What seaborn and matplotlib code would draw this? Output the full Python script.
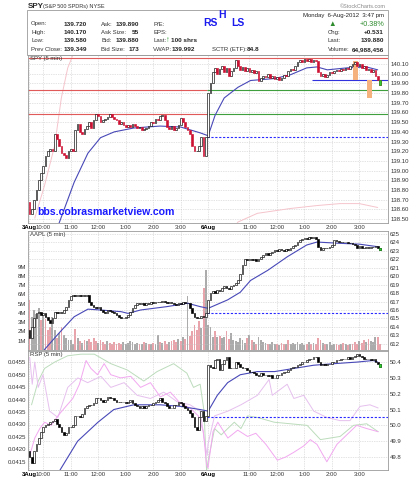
import numpy as np
import matplotlib
matplotlib.use("Agg")
import matplotlib.pyplot as plt
import seaborn as sns
from matplotlib.patches import Rectangle
from matplotlib.ticker import FuncFormatter

# ---------------- data (5-min bars, 3-Aug then 6-Aug 2012) ----------------
spy_open_first = 138.68
spy_close = [
    138.55, 138.60, 138.70, 138.80, 138.90, 138.98, 139.05, 139.15, 139.20, 139.22,
    139.20, 139.38, 139.33, 139.25, 139.18, 139.16, 139.13, 139.20, 139.22, 139.20,
    139.42, 139.48, 139.40, 139.38, 139.43, 139.46, 139.50, 139.44, 139.52, 139.58,
    139.56, 139.50, 139.52, 139.53, 139.55, 139.58, 139.55, 139.53, 139.52, 139.48,
    139.50, 139.47, 139.45, 139.47, 139.45, 139.48, 139.46, 139.44, 139.45, 139.42,
    139.43, 139.44, 139.46, 139.50, 139.49, 139.53, 139.52, 139.56, 139.57, 139.52,
    139.45, 139.43, 139.46, 139.42, 139.44, 139.47, 139.54, 139.50, 139.45, 139.42,
    139.38, 139.25, 139.20, 139.20, 139.25, 139.35, 139.15, 139.35,
    139.80, 139.90, 140.02, 140.06, 140.00, 140.05, 140.08, 140.02, 140.06, 139.98,
    140.03, 140.06, 140.14, 140.08, 140.04, 140.07, 140.03, 140.06, 140.02, 140.04,
    140.01, 140.03, 139.92, 139.96, 139.98, 139.97, 140.00, 139.96, 139.98, 139.95,
    139.97, 139.94, 139.96, 139.99, 139.98, 140.03, 140.05, 140.04, 140.08, 140.12,
    140.14, 140.12, 140.15, 140.13, 140.15, 140.12, 140.14, 140.13, 140.02, 139.98,
    140.00, 139.97, 139.99, 140.02, 140.01, 140.03, 140.04, 140.03, 140.05, 140.04,
    140.06, 140.05, 140.08, 140.10, 140.12, 140.08, 140.10, 140.06, 140.08, 140.04,
    140.05, 140.02, 140.04, 139.98, 139.94, 139.88,
]
spy_ma_x = [12, 19.5, 25.5, 31, 37, 45.5, 57, 66, 74.5, 78, 81, 85, 91, 96.5, 107, 114, 121, 125.5, 130, 138.5, 147, 152]
spy_ma_y = [138.40, 138.88, 139.18, 139.34, 139.40, 139.44, 139.46, 139.45, 139.39, 139.36, 139.57, 139.75,
            139.86, 139.93, 139.95, 139.99, 140.06, 140.07, 140.04, 140.06, 140.07, 140.04]
spy_pink1_x = [2.3, 6.6, 11, 13.9, 16.7, 18.9, 20.5]
spy_pink1_y = [138.51, 138.85, 139.26, 139.75, 140.06, 140.19, 140.40]
spy_pink2_x = [89, 91, 99.5, 114, 125.5, 135.5, 144, 152]
spy_pink2_y = [138.40, 138.47, 138.56, 138.61, 138.64, 138.66, 138.66, 138.62]
spy_top_level = 140.16
spy_day1_levels = [139.83, 139.58]
spy_day2_levels = [139.83, 139.58]
spy_blue_level = 139.94
spy_prev_close = 139.35
spy_hilite_x0 = [141.4, 147.2]
spy_hilite_x1 = [143.6, 149.7]
spy_hilite_lo = [139.94, 139.75]
spy_hilite_hi = [140.13, 139.93]

aapl_open_first = 613.6
aapl_close = [
    612.7, 614.0, 615.0, 615.6, 615.8, 615.4, 615.6, 615.2, 614.8, 614.4,
    615.0, 615.8, 615.6, 615.8, 615.6, 616.0, 616.4, 617.2, 617.6, 617.8,
    617.6, 617.8, 617.6, 617.8, 617.6, 617.8, 617.0, 616.6, 616.4, 616.2,
    616.4, 616.0, 615.8, 615.6, 616.0, 615.9, 615.8, 615.6, 615.4, 615.2,
    615.0, 615.0, 615.2, 615.4, 615.8, 616.2, 616.6, 616.8, 616.7, 616.8,
    616.6, 616.8, 616.7, 616.9, 616.8, 616.9, 617.0, 616.9, 617.1, 617.0,
    616.8, 616.9, 616.8, 616.7, 616.6, 616.8, 616.7, 616.9, 616.8, 616.8,
    616.2, 615.6, 615.2, 615.1, 615.0, 615.3, 615.2, 615.7,
    617.2, 618.0, 618.2, 618.0, 618.4, 618.2, 618.6, 618.8, 618.6, 618.5,
    618.8, 619.0, 619.2, 619.5, 620.3, 621.3, 622.1, 621.9, 622.1, 621.9,
    622.0, 621.8, 622.1, 622.3, 622.5, 622.7, 622.5, 622.8, 622.9, 623.1,
    623.0, 623.2, 623.1, 623.0, 623.2, 623.1, 623.4, 623.6, 623.7, 624.0,
    624.3, 624.4, 624.5, 624.4, 624.6, 624.5, 624.6, 624.4, 623.5, 623.1,
    623.4, 623.3, 623.4, 623.5, 623.7, 624.3, 624.2, 624.1, 624.1, 624.0,
    624.1, 623.9, 623.9, 623.8, 623.7, 623.4, 623.6, 623.4, 623.3, 623.5,
    623.4, 623.5, 623.5, 623.6, 623.4, 623.1,
]
aapl_volume_m = [
    5.4, 3.6, 4.3, 3.9, 4.5, 3.2, 3.8, 3.4, 2.2, 2.5,
    3.6, 2.2, 1.3, 1.8, 2.5, 1.6, 1.3, 1.1, 1.1, 0.7,
    2.3, 1.3, 1.0, 0.8, 1.1, 1.0, 1.2, 0.9, 1.3, 1.0,
    0.8, 1.1, 0.9, 0.7, 1.0, 0.8, 0.6, 0.9, 0.7, 0.8,
    0.6, 0.9, 0.7, 0.8, 1.0, 0.9, 0.7, 0.8, 0.6, 0.7,
    0.9, 0.8, 0.7, 0.6, 0.8, 0.7, 1.6, 0.9, 0.8, 1.0,
    0.7, 0.9, 1.0, 1.1, 0.9, 1.2, 1.0, 1.4, 1.2, 5.8,
    1.5, 2.0, 2.7, 2.2, 3.1, 2.4, 6.7, 8.6,
    2.7, 2.5, 1.4, 2.0, 1.4, 1.5, 1.3, 1.4, 2.0, 1.2,
    1.8, 1.1, 1.0, 0.9, 1.3, 1.1, 0.8, 1.3, 1.6, 1.1,
    0.9, 0.7, 1.4, 1.1, 0.9, 0.8, 0.6, 0.7, 0.9, 0.6,
    0.7, 0.5, 0.8, 0.6, 0.7, 1.1, 0.6, 0.8, 0.7, 0.9,
    0.6, 0.8, 0.5, 0.7, 0.9, 0.6, 0.8, 0.7, 1.3, 1.1,
    0.8, 0.7, 0.6, 0.9, 0.5, 0.6, 0.7, 0.5, 0.6, 0.8,
    0.6, 0.5, 0.7, 0.6, 0.9, 0.7, 1.0, 0.8, 1.1, 0.9,
    1.2, 1.0, 0.9, 1.4, 1.4, 0.6,
]
aapl_ma_x = [6.5, 13, 19.5, 25.5, 31, 40, 43, 48.5, 60, 69, 74.5, 78, 86.5, 92, 96.5, 104, 112.5, 121, 125.5, 135.5, 144, 152]
aapl_ma_y = [611.3, 613.3, 615.2, 616.1, 616.0, 615.8, 615.6, 616.0, 616.4, 616.8, 616.4, 616.2,
             617.2, 618.1, 619.5, 620.7, 622.3, 623.7, 624.05, 623.9, 623.8, 623.5]
aapl_prev_close = 615.7

rsp_open_first = 49.84
rsp_close = [
    49.80, 49.76, 49.84, 49.88, 49.92, 49.96, 49.99, 50.00, 50.01, 50.02,
    50.03, 50.04, 50.01, 49.99, 49.96, 49.94, 49.95, 49.99, 49.99, 50.00,
    50.06, 50.06, 50.05, 50.07, 50.11, 50.12, 50.13, 50.13, 50.14, 50.17,
    50.17, 50.16, 50.15, 50.16, 50.18, 50.17, 50.17, 50.16, 50.15, 50.15,
    50.15, 50.15, 50.14, 50.15, 50.16, 50.14, 50.13, 50.12, 50.11, 50.12,
    50.11, 50.12, 50.13, 50.13, 50.14, 50.15, 50.16, 50.17, 50.15, 50.14,
    50.12, 50.11, 50.11, 50.13, 50.13, 50.15, 50.14, 50.12, 50.11, 50.10,
    50.08, 50.05, 49.99, 49.97, 50.05, 50.09, 50.03, 50.06,
    50.38, 50.37, 50.36, 50.41, 50.42, 50.35, 50.39, 50.41, 50.43, 50.36,
    50.36, 50.36, 50.40, 50.39, 50.37, 50.36, 50.36, 50.35, 50.34, 50.34,
    50.33, 50.32, 50.31, 50.33, 50.32, 50.32, 50.31, 50.32, 50.30, 50.30,
    50.32, 50.32, 50.33, 50.34, 50.34, 50.35, 50.36, 50.37, 50.37, 50.38,
    50.39, 50.40, 50.40, 50.41, 50.42, 50.42, 50.43, 50.43, 50.40, 50.38,
    50.39, 50.38, 50.39, 50.39, 50.40, 50.40, 50.41, 50.41, 50.42, 50.42,
    50.42, 50.43, 50.42, 50.43, 50.44, 50.45, 50.44, 50.43, 50.42, 50.42,
    50.42, 50.41, 50.42, 50.40, 50.39, 50.37,
]
rsp_ma_x = [11, 13, 21, 29.9, 36.8, 45.5, 57, 66, 74.5, 78, 82, 86.5, 92, 99.5, 107, 115.5, 124, 133, 143, 150, 152]
rsp_ma_y = [49.65, 49.71, 49.90, 50.02, 50.10, 50.13, 50.13, 50.12, 50.10, 50.09, 50.19, 50.27,
            50.32, 50.34, 50.34, 50.36, 50.38, 50.39, 50.40, 50.41, 50.40]
rsp_green_x = [0.9, 3.8, 6.6, 11.0, 16.7, 22.5, 28.3, 35.5, 42.7, 49.9, 55.7, 62.9, 68.7, 71.6, 74.5, 76.2, 77.3,
               77.9, 80.8, 83.7, 89.4, 92.3, 95.2, 99.5, 106.8, 121.2, 127.0, 135.6, 141.4, 147.2, 152.2]
rsp_green_y = [50.13, 50.28, 50.36, 50.40, 50.44, 50.45, 50.45, 50.39, 50.35, 50.28, 50.34, 50.39, 50.33, 50.24,
               50.26, 50.09, 49.71, 49.77, 49.98, 49.94, 50.02, 49.98, 50.06, 50.05, 50.02, 50.00, 49.91, 49.93,
               50.00, 50.01, 49.96]
rsp_pink1_x = [0.1, 2.3, 4.5, 6.6, 9.5, 12.4, 15.3, 18.9, 21.8, 24.7, 26.8, 29.7, 32.6, 35.5, 39.8, 44.2, 48.5,
               52.8, 57.1, 61.5, 65.8, 70.1, 73.7, 75.9, 77.3, 77.9, 80.1, 82.2, 86.6, 90.9, 95.2, 98.8, 103.2,
               108.2, 111.8, 115.4, 119.7, 122.6, 125.5, 129.8, 134.2, 138.5, 142.8, 147.2, 152.2]
rsp_pink1_y = [49.81, 49.92, 49.98, 50.02, 50.00, 50.06, 50.11, 50.17, 50.26, 50.41, 50.36, 50.32, 50.39, 50.32,
               50.30, 50.31, 50.24, 50.27, 50.18, 50.21, 50.14, 50.11, 50.06, 49.96, 49.75, 49.73, 49.96, 50.02,
               49.92, 49.97, 49.93, 49.95, 49.88, 49.78, 49.80, 49.83, 49.87, 49.91, 49.88, 49.77, 49.88, 49.94,
               50.00, 49.98, 49.96]
rsp_pink2_x = [0.1, 1.2, 2.3, 3.8, 5.9, 8.8, 12.4, 16.7, 21.1, 25.4, 31.2, 35.5, 41.3, 47.0, 52.8, 58.6, 64.4,
               70.1, 74.5, 76.6, 77.6, 77.9, 80.8, 86.6, 92.3, 99.5, 104.6, 106.0, 112.5, 115.4, 119.7, 124.1,
               129.8, 135.6, 139.9, 144.3, 148.6, 152.2]
rsp_pink2_y = [50.43, 50.26, 50.40, 50.24, 50.32, 50.09, 50.05, 50.24, 50.30, 50.27, 50.31, 50.24, 50.27, 50.19,
               50.17, 50.21, 50.15, 50.13, 50.09, 49.88, 49.81, 49.88, 50.06, 50.09, 50.13, 50.19, 50.29, 50.19,
               50.26, 50.17, 50.19, 50.09, 50.05, 50.03, 50.03, 50.12, 50.13, 50.11]
rsp_prev_close = 50.056

day2_start = 78
xtick_pos = [0, 6, 18, 30, 42, 54, 66, 78, 96, 108, 120, 132, 144]
xtick_labels = ["3Aug", "10:00", "11:00", "12:00", "1:00", "2:00", "3:00",
                "6Aug", "11:00", "12:00", "1:00", "2:00", "3:00"]
spy_ticks = [138.50, 138.60, 138.70, 138.80, 138.90, 139.00, 139.10, 139.20, 139.30,
             139.40, 139.50, 139.60, 139.70, 139.80, 139.90, 140.00, 140.10]
aapl_ticks = [612, 613, 614, 615, 616, 617, 618, 619, 620, 621, 622, 623, 624, 625]
vol_ticks = [1, 2, 3, 4, 5, 6, 7, 8, 9]
rsp_ticks = [49.8, 49.9, 50.0, 50.1, 50.2, 50.3, 50.4]
ratio_ticks = [0.0415, 0.0420, 0.0425, 0.0430, 0.0435, 0.0440, 0.0445, 0.0450, 0.0455]

# ---------------- style ----------------
sns.set_style("white")
plt.rcParams["font.family"] = ["Liberation Sans", "DejaVu Sans"]
FS = 4.3
GRID = dict(color="#c8c8c8", linestyle=(0, (1, 1.5)), linewidth=0.5)
BLUE_MA = "#4848b8"
DASH_BLUE = "#2b2bff"

fig = plt.figure(figsize=(4.16, 4.8), dpi=100)


def hx(x):
    return x / 416


def hy(y):
    return 1 - y / 480


L, W = hx(28), 360 / 416
ax1 = fig.add_axes([L, hy(223), W, 168 / 480])
ax2 = fig.add_axes([L, hy(350), W, 119 / 480], sharex=ax1)
ax3 = fig.add_axes([L, hy(470), W, 119 / 480], sharex=ax1)


def draw_candles(ax, first_open, closes, down_color):
    closes = np.asarray(closes, dtype=float)
    opens = np.concatenate([[first_open], closes[:-1]])
    x = np.arange(len(closes))
    lo = np.minimum(opens, closes)
    h = np.abs(closes - opens)
    up = closes >= opens
    ax.bar(x[up], h[up], bottom=lo[up], width=0.75, facecolor="white",
           edgecolor="black", linewidth=0.45, zorder=4)
    ax.bar(x[~up], h[~up], bottom=lo[~up], width=0.75, facecolor=down_color,
           edgecolor=down_color, linewidth=0.45, zorder=4)
    ax.bar(x[-1:], h[-1:], bottom=lo[-1:], width=0.75, facecolor="#33cc33",
           edgecolor="#1f9a1f", linewidth=0.45, zorder=5)


def style_axis(ax):
    for s in ax.spines.values():
        s.set_color("#9a9a9a")
        s.set_linewidth(0.6)
    ax.set_xticks(xtick_pos)
    ax.grid(True, **GRID)
    ax.tick_params(axis="both", length=0, labelsize=FS, pad=1.5, colors="#333333")


XLIM = (-0.65, 156.5)

# ---------------- panel 1: SPY ----------------
style_axis(ax1)
ax1.set_xlim(*XLIM)
ax1.set_ylim(138.46, 140.193)
ax1.yaxis.tick_right()
ax1.set_yticks(spy_ticks)
ax1.set_yticklabels([f"{t:.2f}" for t in spy_ticks])
ax1.set_xticklabels(xtick_labels)

sns.lineplot(x=spy_pink1_x, y=spy_pink1_y, ax=ax1, color="#f5c4cc", linewidth=0.7, sort=False, estimator=None, legend=False)
sns.lineplot(x=spy_pink2_x, y=spy_pink2_y, ax=ax1, color="#f5c4cc", linewidth=0.7, sort=False, estimator=None, legend=False)
ax1.hlines(spy_top_level, XLIM[0], XLIM[1], colors="#e05a5a", linewidth=0.8, zorder=2)
ax1.hlines(spy_day1_levels, XLIM[0], day2_start - 0.5, colors="#e05a5a", linewidth=0.8, zorder=2)
ax1.hlines(spy_day2_levels, day2_start - 0.5, XLIM[1], colors="#3f9f3f", linewidth=0.8, zorder=2)
ax1.hlines(spy_prev_close, day2_start - 0.5, XLIM[1], colors=DASH_BLUE, linewidth=0.8,
           linestyles=(0, (2, 1.5)), zorder=2)
ax1.hlines(spy_blue_level, 123.4, XLIM[1], colors="#3333dd", linewidth=0.8, zorder=2)
for x0, x1, lo, hi in zip(spy_hilite_x0, spy_hilite_x1, spy_hilite_lo, spy_hilite_hi):
    ax1.add_patch(Rectangle((x0, lo), x1 - x0, hi - lo, facecolor="#f5b27e", edgecolor="none", zorder=3))
sns.lineplot(x=spy_ma_x, y=spy_ma_y, ax=ax1, color=BLUE_MA, linewidth=0.8, sort=False, estimator=None, legend=False)
draw_candles(ax1, spy_open_first, spy_close, "#cc1133")
ax1.text(0.005, 0.995, "SPY (5 min)", transform=ax1.transAxes, ha="left", va="top", fontsize=FS, color="#333333")

# ---------------- panel 2: AAPL ----------------
style_axis(ax2)
ax2.set_ylim(0, 12.86)
ax2.set_yticks(vol_ticks)
ax2.yaxis.set_major_formatter(FuncFormatter(lambda v, _: f"{int(round(v))}M"))
ax2.tick_params(labelbottom=False)
ax2.grid(False)
ax2.xaxis.grid(True, **GRID)
aapl_arr = np.asarray(aapl_close)
prev = np.concatenate([[aapl_open_first], aapl_arr[:-1]])
vol_colors = np.where(aapl_arr >= prev, "#ababab", "#e9a3ab")
ax2.bar(np.arange(len(aapl_volume_m)), aapl_volume_m, width=0.8, color=vol_colors, linewidth=0, zorder=1)

ax2p = ax2.twinx()
for s in ax2p.spines.values():
    s.set_visible(False)
ax2p.set_ylim(611.26, 625.36)
ax2p.set_yticks(aapl_ticks)
ax2p.set_yticklabels([str(t) for t in aapl_ticks])
ax2p.tick_params(axis="y", length=0, labelsize=FS, pad=1.5, colors="#333333")
ax2p.grid(True, axis="y", **GRID)
ax2p.hlines(aapl_prev_close, day2_start - 0.5, XLIM[1], colors=DASH_BLUE, linewidth=0.8,
            linestyles=(0, (2, 1.5)), zorder=2)
sns.lineplot(x=aapl_ma_x, y=aapl_ma_y, ax=ax2p, color=BLUE_MA, linewidth=0.8, sort=False, estimator=None, legend=False)
draw_candles(ax2p, aapl_open_first, aapl_close, "black")
ax2p.set_ylabel("")
ax2.text(0.005, 0.995, "AAPL (5 min)", transform=ax2.transAxes, ha="left", va="top", fontsize=FS, color="#333333")

# ---------------- panel 3: RSP ----------------
style_axis(ax3)
ax3.set_ylim(49.718, 50.47)
ax3.yaxis.tick_right()
ax3.set_yticks(rsp_ticks)
ax3.set_yticklabels([f"{t:.1f}" for t in rsp_ticks])
ax3.set_xticklabels(xtick_labels)
sns.lineplot(x=rsp_green_x, y=rsp_green_y, ax=ax3, color="#bcdcbc", linewidth=0.7, sort=False, estimator=None, legend=False)
sns.lineplot(x=rsp_pink2_x, y=rsp_pink2_y, ax=ax3, color="#e6c0ee", linewidth=0.7, sort=False, estimator=None, legend=False)
sns.lineplot(x=rsp_pink1_x, y=rsp_pink1_y, ax=ax3, color="#f2a8f0", linewidth=0.7, sort=False, estimator=None, legend=False)
ax3.hlines(rsp_prev_close, day2_start - 0.5, XLIM[1], colors=DASH_BLUE, linewidth=0.8,
           linestyles=(0, (2, 1.5)), zorder=2)
sns.lineplot(x=rsp_ma_x, y=rsp_ma_y, ax=ax3, color=BLUE_MA, linewidth=0.8, sort=False, estimator=None, legend=False)
draw_candles(ax3, rsp_open_first, rsp_close, "black")
sec = ax3.secondary_yaxis("left", functions=(lambda p: 0.045508 + (p - 50.4) * 0.006371,
                                              lambda r: 50.4 + (r - 0.045508) / 0.006371))
sec.set_yticks(ratio_ticks)
sec.set_yticklabels([f"{t:.4f}" for t in ratio_ticks])
sec.tick_params(length=0, labelsize=FS, pad=1.5, colors="#333333")
sec.spines["left"].set_visible(False)
ax3.text(0.005, 0.995, "RSP (5 min)", transform=ax3.transAxes, ha="left", va="top", fontsize=FS, color="#333333")

for ax in (ax1, ax2, ax3):
    ax.set_xlabel("")
    ax.set_ylabel("")
for ax in (ax1, ax3):
    for lab in ax.get_xticklabels():
        if "Aug" in lab.get_text():
            lab.set_fontweight("bold")
            lab.set_color("black")

# ---------------- header ----------------
fig.add_artist(Rectangle((hx(27), hy(55)), 361 / 416, 45 / 480, transform=fig.transFigure,
                         fill=False, edgecolor="#9a9a9a", linewidth=0.6))
fig.text(hx(28), hy(6), "SPY", fontsize=5.8, fontweight="bold", va="center", ha="left")
fig.text(hx(43), hy(6.3), "(S&P 500 SPDRs) NYSE", fontsize=4.0, va="center", ha="left", color="#333333")
fig.text(hx(386), hy(6), "\u00a9StockCharts.com", fontsize=4.0, va="center", ha="right", color="#888888")
fig.text(hx(384), hy(15), "Monday  6-Aug-2012  3:47 pm", fontsize=4.3, va="center", ha="right", color="#222222")

rows = [24, 32.5, 41, 49.5]
c1_lab = ["Open:", "High:", "Low:", "Prev Close:"]
c1_val = ["139.720", "140.170", "139.580", "139.349"]
c2_lab = ["Ask:", "Ask Size:", "Bid:", "Bid Size:"]
c2_val = ["139.890", "55", "139.880", "173"]
for y, a, b in zip(rows, c1_lab, c1_val):
    fig.text(hx(31), hy(y), a, fontsize=FS, va="center", ha="left", color="#333333")
    fig.text(hx(87), hy(y), b, fontsize=4.6, va="center", ha="right", fontweight="bold")
for y, a, b in zip(rows, c2_lab, c2_val):
    fig.text(hx(101), hy(y), a, fontsize=FS, va="center", ha="left", color="#333333")
    fig.text(hx(139), hy(y), b, fontsize=4.6, va="center", ha="right", fontweight="bold")
for y, a in zip(rows, ["P/E:", "EPS:", "Last:", "VWAP:"]):
    fig.text(hx(153), hy(y), a, fontsize=FS, va="center", ha="left", color="#333333")
fig.text(hx(166), hy(41), "\u2191", fontsize=5.5, va="center", ha="left", color="#2e9a2e", fontweight="bold")
fig.text(hx(171), hy(41), "100 shrs", fontsize=4.6, va="center", ha="left", fontweight="bold")
fig.text(hx(172), hy(49.5), "139.992", fontsize=4.6, va="center", ha="left", fontweight="bold")
fig.text(hx(212), hy(49.5), "SCTR (ETF):", fontsize=FS, va="center", ha="left", color="#333333")
fig.text(hx(247), hy(49.5), "84.8", fontsize=4.6, va="center", ha="left", fontweight="bold")

fig.text(hx(203), hy(22.5), "RS", fontsize=7.5, va="center", ha="left", fontweight="bold", color="#1a1aee")
fig.text(hx(218), hy(15.5), "H", fontsize=7.5, va="center", ha="left", fontweight="bold", color="#1a1aee")
fig.text(hx(231), hy(22.5), "LS", fontsize=7.5, va="center", ha="left", fontweight="bold", color="#1a1aee")

fig.text(hx(332), hy(24), "\u25b2", fontsize=5.5, va="center", ha="center", color="#2e8b2e")
fig.text(hx(384), hy(24), "+0.38%", fontsize=5.2, va="center", ha="right", color="#2e8b2e")
for y, a, b in zip(rows[1:], ["Chg:", "Last:", "Volume:"], ["+0.531", "139.880", "64,988,456"]):
    fig.text(hx(328), hy(y), a, fontsize=FS, va="center", ha="left", color="#333333")
    fig.text(hx(384), hy(y), b, fontsize=4.6, va="center", ha="right", fontweight="bold")

fig.text(hx(37), hy(212), "bbs.cobrasmarketview.com", fontsize=7.6, fontweight="bold",
         va="center", ha="left", color="#1a1aff")

fig.savefig("out.png", dpi=100)
